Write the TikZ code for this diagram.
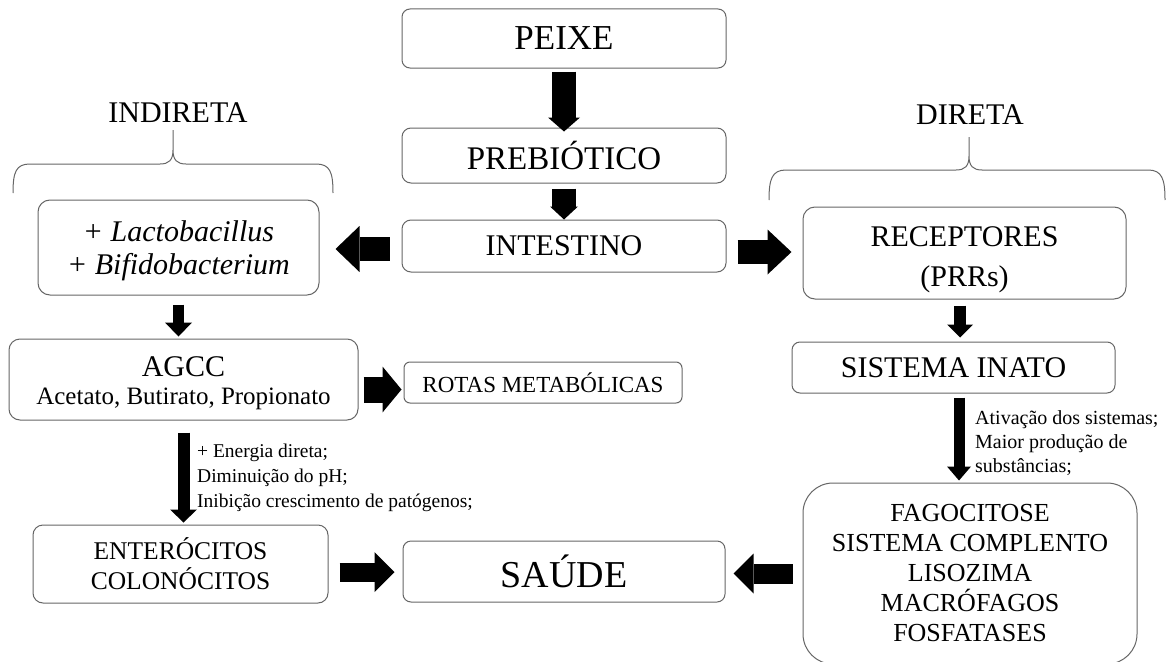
\documentclass[tikz,border=0pt]{standalone}
\usepackage{fontspec}
\setmainfont{Liberation Serif}
\usetikzlibrary{arrows.meta}
\begin{document}
\begin{tikzpicture}[x=1pt,y=-1pt,
  box/.style={draw=black!60, line width=1pt, rounded corners=9pt, inner sep=0pt, align=center, text=black},
  txt/.style={inner sep=0pt, align=center, text=black},
  fs/.style 2 args={font=\fontsize{#1}{#2}\selectfont},
  blk/.style n args={3}{draw=black, line width=#1, -{Triangle[width=#2, length=#3, line width=0pt]}},
  brc/.style={draw=black!60, line width=1pt}]
\useasboundingbox (0,0) rectangle (1166,661);
\fill[white] (0,0) rectangle (1166,661);
\clip (0,0) rectangle (1166,661);

% boxes
\node[box, rounded corners=8pt, minimum width=324pt, minimum height=59pt, fs={35}{40}] (peixe) at (564,38.5) {PEIXE};
\node[box, minimum width=324pt, minimum height=55pt, fs={33}{38}] (preb) at (564,155.5) {PREBIÓTICO};
\node[box, minimum width=324pt, minimum height=52pt, fs={30}{36}] (int) at (564,246) {INTESTINO};
\node[box, rounded corners=12pt, minimum width=281pt, minimum height=95pt] (lact) at (178.5,247.5) {};
\node[txt, fs={30}{33}] (lacttxt) at ([yshift=-3.5pt]lact.center) {\textit{+ Lactobacillus}\\\textit{+ Bifidobacterium}};
\node[box, rounded corners=12pt, minimum width=323pt, minimum height=92pt] (rec) at (964.5,253) {};
\node[txt, fs={30}{40}] (rectxt) at ([yshift=-7pt]rec.center) {RECEPTORES\\(PRRs)};
\node[box, rounded corners=11pt, minimum width=349pt, minimum height=81pt] (agcc) at (183.5,379.5) {};
\node[txt, fs={25}{28}] (agcctxt) at ([yshift=-4pt]agcc.center) {{\fontsize{30}{30}\selectfont AGCC}\\Acetato, Butirato, Propionato};
\node[box, rounded corners=6pt, minimum width=278pt, minimum height=41pt, fs={23}{28}] (rotas) at (543,382.5) {ROTAS METABÓLICAS};
\node[box, rounded corners=8pt, minimum width=323pt, minimum height=51pt, fs={30}{36}] (sist) at (953.5,367.5) {SISTEMA INATO};
\node[box, rounded corners=10pt, minimum width=295pt, minimum height=78pt, fs={25.5}{30}] (ent) at (180.5,564) {ENTERÓCITOS\\COLONÓCITOS};
\node[box, rounded corners=8pt, minimum width=322pt, minimum height=61pt, fs={38}{44}] (saude) at (564,571.5) {SAÚDE};
\node[box, rounded corners=30pt, minimum width=334pt, minimum height=181pt, fs={26}{30}] (fag) at (970,573.5) {FAGOCITOSE\\SISTEMA COMPLENTO\\LISOZIMA\\MACRÓFAGOS\\FOSFATASES};

% headers
\node[txt, fs={30}{36}] (indireta) at (178,113) {INDIRETA};
\node[txt, fs={30}{36}] (direta) at (970,115) {DIRETA};

% braces
\draw[brc] (13,193) .. controls (13,172) and (16,164) .. (30,164) -- (160,164) .. controls (169,164) and (173,160) .. (173,150) -- (173,130)
  -- (173,150) .. controls (173,160) and (177,164) .. (186,164) -- (316,164) .. controls (330,164) and (333,172) .. (333,193);
\draw[brc] (769,200) .. controls (769,179) and (772,170) .. (786,170) -- (956,170) .. controls (965,170) and (969,166) .. (969,156) -- (969,137)
  -- (969,156) .. controls (969,166) and (973,170) .. (982,170) -- (1148,170) .. controls (1162,170) and (1165,179) .. (1165,200);

% labels
\node[fs={19.5}{25}, anchor=west, align=left, inner sep=0pt] (lab1) at (197,478) {+ Energia direta;\\Diminuição do pH;\\Inibição crescimento de patógenos;};
\node[fs={20}{24}, anchor=west, align=left, inner sep=0pt] (lab2) at (975,443) {Ativação dos sistemas;\\Maior produção de\\substâncias;};

% helper coordinates
\coordinate (a3) at ([yshift=-3pt]int.west);
\coordinate (a4) at ([yshift=-6pt]int.east);
\coordinate (a6) at ([xshift=-4.5pt]rec.south);
\coordinate (a7) at ([yshift=-10pt]agcc.east);
\coordinate (a9) at ([xshift=5.5pt]sist.south);
\coordinate (a10) at ([yshift=-8pt]ent.east);

% arrows
\draw[blk={24pt}{32pt}{14pt}, shorten <=3pt, shorten >=-4pt] (peixe.south) -- (preb.north);
\draw[blk={24pt}{28pt}{13pt}, shorten <=5pt] (preb.south) -- (int.north);
\draw[blk={24pt}{46pt}{24pt}, shorten <=12pt, shorten >=16pt] (a3) -- (a3 -| lact.east);
\draw[blk={24pt}{45pt}{24pt}, shorten <=11pt, shorten >=11pt] (a4) -- (a4 -| rec.west);
\draw[blk={11pt}{27pt}{14pt}, shorten <=9pt, shorten >=2pt] (lact.south) -- (lact.south |- agcc.north);
\draw[blk={12pt}{26pt}{13pt}, shorten <=6pt, shorten >=4pt] (a6) -- (a6 |- sist.north);
\draw[blk={26pt}{46pt}{19pt}, shorten <=5pt, shorten >=2pt] (a7) -- (a7 -| rotas.west);
\draw[blk={12pt}{27pt}{13pt}, shorten <=12pt, shorten >=2pt] (agcc.south) -- (agcc.south |- ent.north);
\draw[blk={11pt}{24pt}{14pt}, shorten <=4pt, shorten >=2pt] (a9) -- (a9 |- fag.north);
\draw[blk={19pt}{40pt}{20pt}, shorten <=11pt, shorten >=8pt] (a10) -- (a10 -| saude.west);
\draw[blk={20pt}{40pt}{20pt}, shorten <=10pt, shorten >=8pt] (fag.west) -- (fag.west -| saude.east);
\end{tikzpicture}
\end{document}
